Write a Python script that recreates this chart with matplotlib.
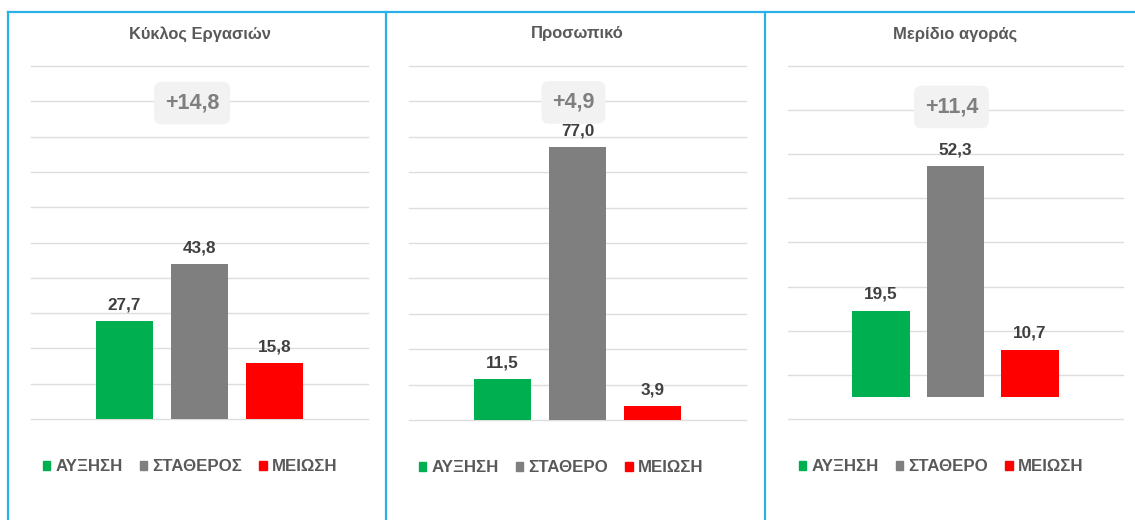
import matplotlib.pyplot as plt
from matplotlib.patches import Patch
from matplotlib.lines import Line2D

plt.rcParams["font.family"] = ["Liberation Sans", "DejaVu Sans"]

titles = ["Κύκλος Εργασιών", "Προσωπικό", "Μερίδιο αγοράς"]
categories = [
    ["ΑΥΞΗΣΗ", "ΣΤΑΘΕΡΟΣ", "ΜΕΙΩΣΗ"],
    ["ΑΥΞΗΣΗ", "ΣΤΑΘΕΡΟ", "ΜΕΙΩΣΗ"],
    ["ΑΥΞΗΣΗ", "ΣΤΑΘΕΡΟ", "ΜΕΙΩΣΗ"],
]
turnover = [27.7, 43.8, 15.8]
staff = [11.5, 77.0, 3.9]
market_share = [19.5, 52.3, 10.7]
deltas = ["+14,8", "+4,9", "+11,4"]

colors = ["#00B050", "#7F7F7F", "#FF0000"]
W, H = 1135, 520

fig = plt.figure(figsize=(W / 100, H / 100), dpi=100)


def px_axes(x0, x1, y0, y1):
    # pixel box (y from top) -> figure fraction
    return fig.add_axes([x0 / W, 1 - y1 / H, (x1 - x0) / W, (y1 - y0) / H])


boxes = [(31, 368, 66, 419), (409, 746, 66, 420), (788, 1123, 66, 419)]
ylims = [(0, 100), (0, 100), (-5, 75)]
delta_x = [0.478, 0.488, 0.488]
delta_y = [0.895, 0.897, 0.884]
legend_x = [0.472, 0.451, 0.457]

for i, vals in enumerate([turnover, staff, market_share]):
    ax = px_axes(*boxes[i])
    x = range(len(vals))
    ax.bar(x, vals, width=0.77, color=colors, zorder=2)
    ax.set_xlim(-1.245, 3.245)
    lo, hi = ylims[i]
    ax.set_ylim(lo, hi)
    ax.set_yticks(range(lo, hi + 1, 10))
    ax.grid(axis="y", color="#DDDDDD", linewidth=1.0, zorder=0)
    for gl in ax.get_ygridlines():
        gl.set_clip_on(False)
    ax.set_xticks([])
    ax.tick_params(left=False, labelleft=False)
    for s in ax.spines.values():
        s.set_visible(False)

    for xi, v in zip(x, vals):
        ax.annotate(f"{v:.1f}".replace(".", ","), (xi, v), xytext=(0, 6.5),
                    textcoords="offset points", ha="center", va="bottom",
                    fontsize=12.3, fontweight="bold", color="#404040")

    ax.text(0.5, 1 + 32 / 353, titles[i], transform=ax.transAxes,
            ha="center", va="center", fontsize=11.9, fontweight="bold",
            color="#595959")

    ax.text(delta_x[i], delta_y[i], deltas[i], transform=ax.transAxes,
            ha="center", va="center", fontsize=15.5, fontweight="bold",
            color="#7F7F7F", zorder=5,
            bbox=dict(boxstyle="round,pad=0.5,rounding_size=0.35",
                      fc="#F2F2F2", ec="none"))

    handles = [Patch(color=c) for c in colors]
    ax.legend(handles, categories[i], loc="center",
              bbox_to_anchor=(legend_x[i], -0.135), ncol=3, frameon=False,
              handlelength=0.45, handleheight=0.45, handletextpad=0.3,
              columnspacing=1.0,
              prop={"size": 12.2, "weight": "bold"}, labelcolor="#595959")

# blue panel frame
blue = "#29B0E6"
fig.add_artist(Line2D([8 / W, 1], [1 - 12 / H, 1 - 12 / H], color=blue, lw=1.6))
for xp in [8, 386, 765]:
    fig.add_artist(Line2D([xp / W, xp / W], [0, 1 - 12 / H], color=blue, lw=1.6))

fig.savefig("out.png", dpi=100)
